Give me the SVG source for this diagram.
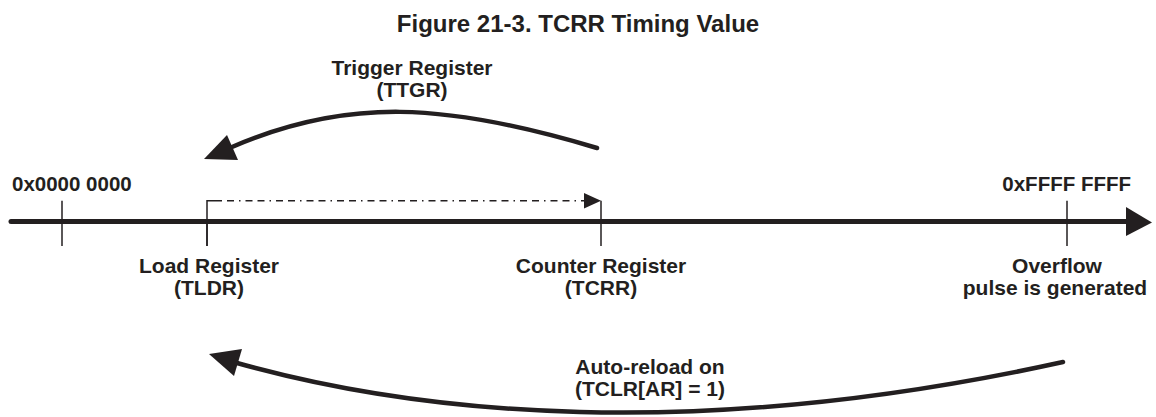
<svg xmlns="http://www.w3.org/2000/svg" width="1156" height="417" viewBox="0 0 1156 417">
<style>
.t{font-family:"Liberation Sans",Arial,sans-serif;font-weight:bold;fill:#231f20;text-anchor:middle;font-size:21px}
.tick{stroke:#231f20;stroke-width:1.5;fill:none}
.arc{stroke:#231f20;stroke-width:4.5;fill:none;stroke-linecap:round}
.head{fill:#231f20}
</style>
<rect width="1156" height="417" fill="#fff"/>
<text class="t" x="578" y="32" style="font-size:24px">Figure 21-3. TCRR Timing Value</text>
<g id="connectors">
<line x1="11" y1="221.5" x2="1128" y2="221.5" stroke="#231f20" stroke-width="5" stroke-linecap="round"/>
<polygon class="head" points="1126,207 1152,222.5 1126,236"/>
<polyline class="tick" points="207,246 207,200.7 215,200.7"/>
<line x1="215" y1="200.7" x2="585" y2="200.7" stroke="#231f20" stroke-width="1.5" stroke-dasharray="7 5 7 5 1.5 5"/>
<polygon class="head" points="584,193 584,208.5 601,200.7"/>
<path class="arc" d="M597,148 C444,102 346,98 232,147"/>
<polygon class="head" points="204,159 227,135 238,160"/>
<path class="arc" d="M1063,362 C694,443 419,414 237,363"/>
<polygon class="head" points="209,354 242,349 234,376"/>
</g>
<g id="tick-start"><line class="tick" x1="62" y1="200.7" x2="62" y2="246"/></g>
<g id="tick-tldr"><line class="tick" x1="207" y1="221" x2="207" y2="246"/></g>
<g id="tick-tcrr"><line class="tick" x1="601" y1="200.7" x2="601" y2="246"/></g>
<g id="tick-end"><line class="tick" x1="1067" y1="200.7" x2="1067" y2="246"/></g>
<g id="label-start"><text class="t" x="12" y="191" style="font-size:20.5px;text-anchor:start">0x0000 0000</text></g>
<g id="label-end"><text class="t" x="1131" y="191" style="font-size:20.5px;text-anchor:end">0xFFFF FFFF</text></g>
<g id="trigger"><text class="t" x="412" y="75">Trigger Register</text><text class="t" x="412" y="97">(TTGR)</text></g>
<g id="load"><text class="t" x="209" y="273">Load Register</text><text class="t" x="209" y="295">(TLDR)</text></g>
<g id="counter"><text class="t" x="601" y="273">Counter Register</text><text class="t" x="601" y="295">(TCRR)</text></g>
<g id="overflow"><text class="t" x="1057" y="273">Overflow</text><text class="t" x="1055" y="295">pulse is generated</text></g>
<g id="autoreload"><text class="t" x="650" y="374">Auto-reload on</text><text class="t" x="650" y="396">(TCLR[AR] = 1)</text></g>
</svg>
